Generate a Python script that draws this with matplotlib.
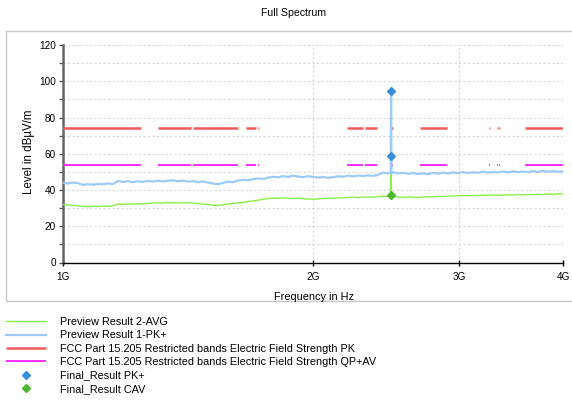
import matplotlib
matplotlib.use("Agg")
import matplotlib.pyplot as plt
import numpy as np
from matplotlib.patches import Rectangle
from matplotlib.ticker import FixedLocator, NullFormatter, MultipleLocator

plt.rcParams["font.family"] = ["Liberation Sans", "DejaVu Sans"]

# ---------------------------
# Data (frequency in MHz, level in dBuV/m)
# ---------------------------
freq_mhz = [
    1000, 1014, 1028, 1042, 1057, 1072, 1087, 1102, 1117, 1133,
    1149, 1165, 1181, 1197, 1214, 1231, 1248, 1266, 1283, 1301,
    1320, 1338, 1357, 1376, 1395, 1414, 1434, 1454, 1474, 1495,
    1516, 1537, 1558, 1580, 1602, 1625, 1647, 1670, 1694, 1717,
    1741, 1766, 1790, 1815, 1840, 1866, 1892, 1919, 1946, 1973,
    2000, 2028, 2056, 2085, 2114, 2144, 2174, 2204, 2235, 2266,
    2297, 2329, 2362, 2395, 2428, 2462, 2481, 2483.5, 2486, 2497,
    2531, 2567, 2603, 2639, 2676, 2713, 2751, 2789, 2828, 2868,
    2908, 2948, 2990, 3031, 3074, 3116, 3160, 3204, 3249, 3294,
    3340, 3386, 3434, 3482, 3530, 3580, 3630, 3680, 3732, 3784,
    3837, 3890, 3944, 4000,
]

pk_level = [
    44.0, 43.6, 44.1, 43.8, 42.8, 43.2, 42.9, 43.4, 43.1, 43.6,
    43.3, 45.0, 44.4, 44.9, 44.3, 44.8, 44.5, 45.0, 44.6, 45.2,
    44.7, 45.1, 45.4, 44.8, 45.2, 44.6, 44.9, 44.3, 44.7, 44.1,
    43.6, 43.2, 43.9, 44.6, 44.3, 45.2, 45.6, 45.3, 46.0, 46.4,
    46.1, 46.8, 47.3, 47.0, 47.6, 47.2, 47.9, 47.4, 47.1, 47.6,
    47.3, 46.9, 47.2, 46.7, 47.1, 47.6, 47.3, 47.9, 47.5, 48.0,
    47.7, 48.1, 47.8, 48.3, 49.6, 49.2, 49.4, 94.7, 49.3, 49.8,
    49.1, 49.5, 48.9, 49.3, 48.8, 49.2, 48.7, 49.4, 49.0, 49.6,
    49.1, 49.7, 49.3, 49.9, 49.4, 49.8, 49.5, 50.1, 49.6, 50.0,
    49.7, 50.2, 49.8, 50.3, 49.9, 50.2, 49.8, 50.4, 50.0, 50.5,
    50.1, 50.4, 50.0, 50.3,
]

avg_level = [
    32.0, 31.7, 31.5, 31.2, 31.0, 30.8, 31.1, 30.9, 31.2, 31.0,
    31.3, 32.3, 32.0, 32.4, 32.2, 32.5, 32.3, 32.6, 32.8, 33.0,
    32.7, 33.1, 32.9, 33.0, 32.8, 33.1, 32.7, 32.5, 32.2, 32.0,
    31.7, 31.4, 31.8, 32.3, 32.5, 32.9, 33.2, 33.6, 34.0, 34.4,
    34.9, 35.3, 35.6, 35.4, 35.7, 35.5, 35.3, 35.5, 35.2, 35.0,
    34.9, 35.1, 35.3, 35.5, 35.4, 35.7, 35.6, 35.9, 36.0, 35.8,
    36.1, 36.2, 36.0, 36.4, 36.6, 36.5, 36.7, 58.0, 36.6, 36.3,
    36.1, 35.9, 36.2, 36.0, 35.8, 36.1, 36.3, 36.2, 36.5, 36.4,
    36.7, 36.6, 36.9, 37.0, 36.8, 37.1, 36.9, 37.2, 37.0, 37.3,
    37.1, 37.2, 37.4, 37.2, 37.5, 37.3, 37.6, 37.4, 37.7, 37.5,
    37.8, 37.6, 37.9, 37.8,
]

# FCC 15.205 restricted bands above 960 MHz (MHz)
band_start = [960, 1300, 1435, 1645.5, 1660, 1718.8, 2200, 2310, 2483.5,
              2690, 3260, 3332, 3345.8, 3600]
band_stop = [1240, 1427, 1626.5, 1646.5, 1710, 1722.2, 2300, 2390, 2500,
             2900, 3267, 3339, 3358, 4400]
limit_pk = 74.0
limit_av = 54.0

final_freq_pk = [2483.5, 2483.5]
final_pk = [94.7, 58.9]
final_freq_cav = [2483.5]
final_cav = [37.2]

x_ticks_mhz = [1000, 2000, 3000, 4000]
x_tick_labels = ["1G", "2G", "3G", "4G"]

# ---------------------------
# Figure
# ---------------------------
W, H = 572, 401
fig = plt.figure(figsize=(W / 100, H / 100), dpi=100)
ax = fig.add_axes([63 / W, 1 - 262.5 / H, 500 / W, (262.5 - 45) / H])

# outer frame around the chart
fig.add_artist(Rectangle((6 / W, 1 - 301 / H), 1.2, (301 - 31) / H,
                         transform=fig.transFigure, fill=False,
                         ec="#c8c8c8", lw=1.0))

l_avg, = ax.plot(freq_mhz, avg_level, color="#88f04a", lw=1.0, zorder=3)
l_pk, = ax.plot(freq_mhz, pk_level, color="#9ccbf7", lw=1.6, zorder=4)
n_bands = len(band_start)
h_pk = ax.hlines(np.full(n_bands, limit_pk), band_start, band_stop,
                 colors="#f25a5a", lw=1.8, zorder=3)
h_av = ax.hlines(np.full(n_bands, limit_av), band_start, band_stop,
                 colors="#ff2cff", lw=1.4, zorder=3)
m_pk, = ax.plot(final_freq_pk, final_pk, ls="none", marker="D", ms=4.4,
                color="#3a8fdc", zorder=5)
m_cav, = ax.plot(final_freq_cav, final_cav, ls="none", marker="D", ms=4.4,
                 color="#4cb82e", zorder=5)

ax.set_xscale("log")
ax.set_xlim(1000, 4000)
ax.set_ylim(0, 120)
ax.xaxis.set_major_locator(FixedLocator(x_ticks_mhz))
ax.xaxis.set_minor_locator(FixedLocator([]))
ax.set_xticklabels(x_tick_labels)
ax.xaxis.set_minor_formatter(NullFormatter())
ax.yaxis.set_major_locator(MultipleLocator(20))
ax.yaxis.set_minor_locator(MultipleLocator(10))

ax.grid(True, which="both", axis="y", color="#d6d6d6", ls=(0, (2, 2)), lw=0.8)
ax.grid(True, which="major", axis="x", color="#d6d6d6", ls=(0, (2, 2)), lw=0.8)
ax.set_axisbelow(True)

for s in ["top", "right"]:
    ax.spines[s].set_visible(False)
ax.spines["left"].set_color("#666666")
ax.spines["left"].set_linewidth(1.8)
ax.spines["bottom"].set_color("black")
ax.spines["bottom"].set_linewidth(1.0)

ax.tick_params(axis="y", which="both", direction="out", length=3, width=1,
               color="#555555", labelsize=7.2, pad=2)
ax.tick_params(axis="x", which="major", direction="inout", length=5, width=1,
               color="black", labelsize=7.2, pad=4)

fig.text(294 / W, 1 - 13 / H, "Full Spectrum", ha="center", va="center", fontsize=7.6)
fig.text(29 / W, 1 - 152 / H, "Level in dBµV/m", ha="center", va="center",
         rotation=90, fontsize=8.3)
fig.text(314 / W, 1 - 296.5 / H, "Frequency in Hz", ha="center", va="center",
         fontsize=7.9)

labels = [
    "Preview Result 2-AVG",
    "Preview Result 1-PK+",
    "FCC Part 15.205 Restricted bands Electric Field Strength PK",
    "FCC Part 15.205 Restricted bands Electric Field Strength QP+AV",
    "Final_Result PK+",
    "Final_Result CAV",
]
fig.legend([l_avg, l_pk, h_pk, h_av, m_pk, m_cav], labels,
           loc="upper left", bbox_to_anchor=(6 / W, 1 - 317 / H),
           frameon=False, fontsize=7.8, handlelength=3.7, handletextpad=1.25,
           labelspacing=0.31, borderpad=0, borderaxespad=0, numpoints=1)

fig.savefig("out.png", dpi=100)
